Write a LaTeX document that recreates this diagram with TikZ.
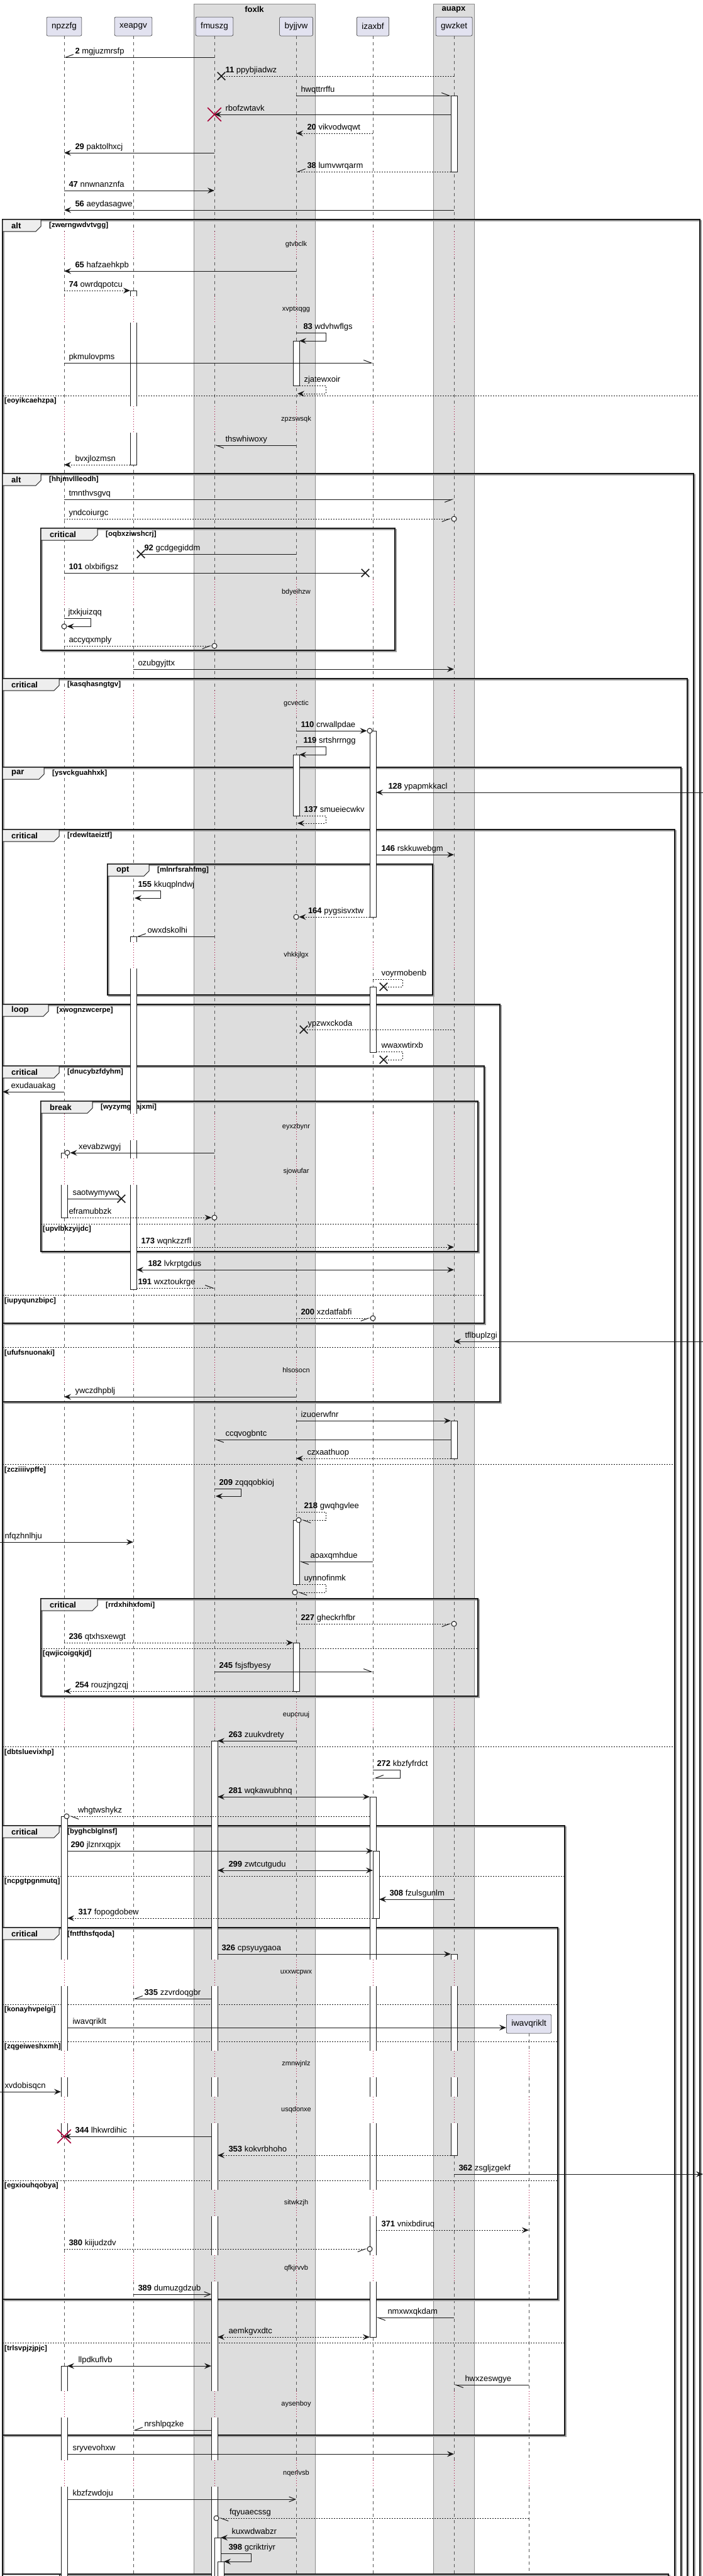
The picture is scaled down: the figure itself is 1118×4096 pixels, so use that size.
\documentclass[tikz,border=0pt]{standalone}
\usepackage{fontspec}
\setmainfont{Liberation Sans}
\usetikzlibrary{arrows.meta,shapes.misc}
\definecolor{ink}{HTML}{181818}
\definecolor{ink2}{HTML}{555555}
\definecolor{partfill}{HTML}{E2E2F0}
\definecolor{boxbg}{HTML}{DDDDDD}
\definecolor{boxedge}{HTML}{8A8A8A}
\definecolor{tabfill}{HTML}{EEEEEE}
\definecolor{crimson}{HTML}{A80036}
\definecolor{shadowc}{HTML}{A0A0A0}
\newcommand{\partfont}{\fontsize{13.5}{16}\selectfont}
\newcommand{\msgfont}{\fontsize{13}{15}\selectfont}
\newcommand{\tabfont}{\fontsize{13}{15}\selectfont\bfseries}
\newcommand{\grdfont}{\fontsize{11.5}{14}\selectfont\bfseries}
\newcommand{\dlyfont}{\fontsize{11}{13}\selectfont}
\newcommand{\sn}[1]{\textbf{#1}}
\tikzset{
  every node/.style={inner sep=0pt},
  part/.style={draw=ink, line width=0.5pt, fill=partfill, rounded corners=2pt,
               minimum height=30pt, inner xsep=8pt, font=\partfont},
  boxt/.style={font=\tabfont},
  life/.style={draw=ink2, line width=0.6pt, dash pattern=on 5pt off 5pt},
  dlyl/.style={draw=crimson, line width=0.7pt, dash pattern=on 1pt off 3pt},
  dly/.style={font=\dlyfont},
  act/.style={draw=ink, line width=0.7pt, fill=white},
  msg/.style={draw=ink, line width=1pt},
  ret/.style={msg, dash pattern=on 2pt off 2pt},
  fil/.style={-{Stealth[length=11pt,width=9pt,inset=4pt]}},
  bidi/.style={{Stealth[length=11pt,width=9pt,inset=4pt]}-{Stealth[length=11pt,width=9pt,inset=4pt]}},
  hl/.style={-{Straight Barb[harpoon,length=12pt,width=9pt]}},
  hr/.style={-{Straight Barb[harpoon,swap,length=12pt,width=9pt]}},
  opn/.style={-{Straight Barb[length=10pt,width=8pt]}},
  labl/.style={pos=1, anchor=base west, xshift=#1, yshift=6pt, font=\msgfont},
  labl/.default=17pt,
  labr/.style={pos=0, anchor=base west, xshift=#1, yshift=6pt, font=\msgfont},
  labr/.default=7pt,
  labs/.style={anchor=base west, xshift=#1, yshift=6pt, font=\msgfont},
  labs/.default=7pt,
  lostx/.style={draw=ink, cross out, minimum size=11pt, line width=1.5pt},
  killx/.style={draw=crimson, cross out, minimum size=20pt, line width=1.6pt},
  ring/.style={draw=ink, circle, fill=white, minimum size=8pt, line width=1pt},
  frm/.style={draw=ink, line width=1.5pt,
              preaction={draw=shadowc, line width=1.5pt, transform canvas={shift={(2pt,-2pt)}}}},
  tabf/.style={draw=ink, line width=1pt, fill=tabfill},
  elsel/.style={draw=ink, line width=0.9pt, dash pattern=on 2pt off 2pt},
  tabt/.style={font=\tabfont, anchor=west},
  grd/.style={font=\grdfont, anchor=west},
}
% fragment: x1, y1, x2, y2, tab width, kind, guard, name
\newcommand{\frag}[8]{%
  \draw[frm] (#1,#2) rectangle (#3,#4);
  \draw[tabf] (#1,#2) -- (#1+#5,#2) -- (#1+#5,#2+11) -- (#1+#5-8,#2+19) -- (#1,#2+19) -- cycle;
  \node[tabt] (#8k) at (#1+14,#2+9.5) {#6};
  \node[grd] (#8g) at (#1+#5+13,#2+10) {[#7]};}
% else line: x1, x2, y, guard, name
\newcommand{\orelse}[5]{%
  \draw[elsel] (#1,#3) -- (#2,#3);
  \node[grd] (#5) at (#1+3,#3+9) {[#4]};}

\begin{document}
\begin{tikzpicture}[x=1pt, y=-1pt]
\useasboundingbox (0,0) rectangle (1118,4096);
% ---- boxes ------------------------------------------------------------------
\fill[boxbg, draw=boxedge, line width=0.6pt] (308,6) rectangle (501,4110);
\node[boxt] (foxlk) at (404.5,15) {foxlk};
\fill[boxbg, draw=boxedge, line width=0.6pt] (689,6) rectangle (754,4110);
\node[boxt] (auapx) at (721.5,15) {auapx};

% ---- participants and lifelines ----------------------------------------------
\node[part] (npz) at (102,42) {npzzfg};
\node[part] (xea) at (212,42) {xeapgv};
\node[part] (fmu) at (341,42) {fmuszg};
\node[part] (byj) at (471,42) {byjjvw};
\node[part] (iza) at (593,42) {izaxbf};
\node[part] (gwz) at (722,42) {gwzket};
\node[part] (iwa) at (841,3218) {iwavqriklt};
\coordinate (lft) at (0,0);
\coordinate (edge) at (4,0);
\coordinate (rgt) at (1118,0);
\foreach \p in {npz,xea,fmu,byj,iza,gwz,iwa}
  \draw[life] (\p.south) -- (\p |- 0,4096);

% ---- fragments ----------------------------------------------------------------
\frag{4}{349}{1113}{4110}{61}{alt}{zwerngwdvtvgg}{f1}
\orelse{4}{1113}{629}{eoyikcaehzpa}{e1}
\frag{4}{753}{1103}{4110}{61}{alt}{hhjmvllleodh}{f2}
\frag{65}{840}{628}{1034}{90}{critical}{oqbxziwshcrj}{f3}
\frag{4}{1079}{1093}{4110}{90}{critical}{kasqhasngtgv}{f4}
\frag{4}{1220}{1083}{4110}{66}{par}{ysvckguahhxk}{f5}
\frag{4}{1319}{1073}{4110}{90}{critical}{rdewltaeiztf}{f6}
\orelse{4}{1073}{2328}{zcziiiivpffe}{e6a}
\orelse{4}{1073}{2777}{dbtsluevixhp}{e6b}
\frag{171}{1374}{688}{1582}{66}{opt}{mlnrfsrahfmg}{f7}
\frag{4}{1597}{795}{2229}{73}{loop}{xwognzwcerpe}{f8}
\orelse{4}{795}{2142}{ufufsnuonaki}{e8}
\frag{4}{1695}{770}{2104}{90}{critical}{dnucybzfdyhm}{f9}
\orelse{4}{770}{2059}{iupyqunzbipc}{e9}
\frag{65}{1751}{760}{1990}{82}{break}{wyzymgbajxmi}{f10}
\orelse{65}{760}{1946}{upvlbkzyijdc}{e10}
\frag{65}{2542}{760}{2697}{90}{critical}{rrdxhihxfomi}{f11}
\orelse{65}{760}{2621}{qwjicoigqkjd}{e11}
\frag{4}{2903}{898}{3872}{90}{critical}{byghcblglnsf}{f12}
\orelse{4}{898}{2983}{ncpgtpgnmutq}{e12a}
\orelse{4}{898}{3725}{trlsvpjzjpjc}{e12b}
\frag{4}{3065}{887}{3656}{90}{critical}{fntfthsfqoda}{f13}
\orelse{4}{887}{3187}{konayhvpelgi}{e13a}
\orelse{4}{887}{3246}{zqgeiweshxmh}{e13b}
\orelse{4}{887}{3467}{egxiouhqobya}{e13c}
\draw[frm] (4,4110) -- (4,4093) -- (1063,4093) -- (1063,4110);
\draw[tabf] (4,4093) rectangle (94,4110);

% ---- activations --------------------------------------------------------------
\draw[act] ([xshift=-5pt]gwz |- 0,152) rectangle ([xshift=5pt]gwz |- 0,273);
\draw[act] ([xshift=-5pt]xea |- 0,462) rectangle ([xshift=5pt]xea |- 0,739);
\draw[act] ([xshift=-5pt]byj |- 0,542) rectangle ([xshift=5pt]byj |- 0,613);
\draw[act] ([xshift=-5pt]iza |- 0,1162) rectangle ([xshift=5pt]iza |- 0,1458);
\draw[act] ([xshift=-5pt]byj |- 0,1200) rectangle ([xshift=5pt]byj |- 0,1297);
\draw[act] ([xshift=-5pt]xea |- 0,1489) rectangle ([xshift=5pt]xea |- 0,2050);
\draw[act] ([xshift=-5pt]iza |- 0,1569) rectangle ([xshift=5pt]iza |- 0,1673);
\draw[act] ([xshift=-5pt]npz |- 0,1833) rectangle ([xshift=5pt]npz |- 0,1936);
\draw[act] ([xshift=-5pt]gwz |- 0,2259) rectangle ([xshift=5pt]gwz |- 0,2319);
\draw[act] ([xshift=-5pt]byj |- 0,2417) rectangle ([xshift=5pt]byj |- 0,2519);
\draw[act] ([xshift=-5pt]byj |- 0,2612) rectangle ([xshift=5pt]byj |- 0,2689);
\draw[act] ([xshift=-5pt]fmu |- 0,2768) rectangle ([xshift=5pt]fmu |- 0,4110);
\draw[act] ([xshift=-5pt]iza |- 0,2857) rectangle ([xshift=5pt]iza |- 0,3716);
\draw[act] ([xshift=-5pt]npz |- 0,2888) rectangle ([xshift=5pt]npz |- 0,3397);
\draw[act] (iza |- 0,2943) rectangle ([xshift=10pt]iza |- 0,3050);
\draw[act] ([xshift=-5pt]gwz |- 0,3107) rectangle ([xshift=5pt]gwz |- 0,3427);
\draw[act] ([xshift=-5pt]npz |- 0,3762) rectangle ([xshift=5pt]npz |- 0,4110);
\draw[act] (fmu |- 0,4035) rectangle ([xshift=10pt]fmu |- 0,4110);
\draw[act] ([xshift=5pt]fmu |- 0,4073) rectangle ([xshift=15pt]fmu |- 0,4110);

% ---- opening exchange ---------------------------------------------------------
\draw[msg, hr] (fmu |- 0,91) -- node[labl] (l2) {\sn{2} mgjuzmrsfp} (npz |- 0,91);
\node[lostx] (x121) at ([xshift=11pt]fmu |- 0,121) {};
\draw[ret] (gwz |- 0,121) -- node[labl=6pt] (l11) {\sn{11} ppybjiadwz} (x121.center);
\draw[msg, hl] (byj |- 0,152) -- node[labr] (lhwq) {hwqttrrffu} ([xshift=-5pt]gwz |- 0,152);
\draw[msg, fil] ([xshift=-5pt]gwz |- 0,182) -- node[labl] (lrbo) {rbofzwtavk} (fmu |- 0,182);
\node[killx] (k182) at (fmu |- 0,182) {};
\draw[ret, fil] (iza |- 0,212) -- node[labl] (l20) {\sn{20} vikvodwqwt} (byj |- 0,212);
\draw[msg, fil] (fmu |- 0,243) -- node[labl] (l29) {\sn{29} paktolhxcj} (npz |- 0,243);
\draw[ret, hr] ([xshift=-5pt]gwz |- 0,273) -- node[labl] (l38) {\sn{38} lumvwrqarm} (byj |- 0,273);
\draw[msg, fil] (npz |- 0,303) -- node[labr] (l47) {\sn{47} nnwnanznfa} (fmu |- 0,303);
\draw[msg, fil] (gwz |- 0,334) -- node[labl] (l56) {\sn{56} aeydasagwe} (npz |- 0,334);

% ---- alt zwerngwdvtvgg ----------------------------------------------------------
\draw[msg, fil] (byj |- 0,431) -- node[labl] (l65) {\sn{65} hafzaehkpb} (npz |- 0,431);
\draw[ret, fil] (npz |- 0,462) -- node[labr] (l74) {\sn{74} owrdqpotcu} ([xshift=-5pt]xea |- 0,462);
\draw[msg, fil] (byj |- 0,529) node[labs=11pt] (l83) {\sn{83} wdvhwflgs} -| ([xshift=47pt]byj |- 0,542) -- ([xshift=5pt]byj |- 0,542);
\draw[msg, hl] (npz |- 0,577) -- node[labr] (lpkm) {pkmulovpms} (iza |- 0,577);
\draw[ret, fil] ([xshift=5pt]byj |- 0,613) node[labs] (lzja) {zjatewxoir} -| ([xshift=47pt]byj |- 0,626) -- ([xshift=2pt]byj |- 0,626);
\draw[msg, hl] (byj |- 0,708) -- node[labl] (lths) {thswhiwoxy} (fmu |- 0,708);
\draw[ret, fil] ([xshift=-5pt]xea |- 0,739) -- node[labl] (lbvx) {bvxjlozmsn} (npz |- 0,739);

% ---- alt hhjmvllleodh -----------------------------------------------------------
\draw[msg, hr] (npz |- 0,794) -- node[labr] (ltmn) {tmnthvsgvq} (gwz |- 0,794);
\node[ring] (o825) at (gwz |- 0,825) {};
\draw[ret, hr] (npz |- 0,825) -- node[labr] (lynd) {yndcoiurgc} (o825.west);
\node[lostx] (x881) at ([xshift=12pt]xea |- 0,881) {};
\draw[msg] (byj |- 0,881) -- node[labl=5pt] (l92) {\sn{92} gcdgegiddm} (x881.center);
\node[lostx] (x911) at ([xshift=-12pt]iza |- 0,911) {};
\draw[msg] (npz |- 0,911) -- node[labr] (l101) {\sn{101} olxbifigsz} (x911.center);
\node[ring] (o996) at (npz |- 0,996) {};
\draw[msg, fil] (npz |- 0,983) node[labs=6pt] (ljtx) {jtxkjuizqq} -| ([xshift=42pt]npz |- 0,996) -- (o996.east);
\node[ring] (o1027) at (fmu |- 0,1027) {};
\draw[ret, hr] (npz |- 0,1027) -- node[labr] (lacc) {accyqxmply} (o1027.west);
\draw[msg, fil] (xea |- 0,1064) -- node[labr] (lozu) {ozubgyjttx} (gwz |- 0,1064);

% ---- critical kasqhasngtgv, par, critical rdewltaeiztf ---------------------------
\node[ring] (o1162) at ([xshift=-5pt]iza |- 0,1162) {};
\draw[msg, fil] (byj |- 0,1162) -- node[labr] (l110) {\sn{110} crwallpdae} (o1162.west);
\draw[msg, fil] (byj |- 0,1187) node[labs=11pt] (l119) {\sn{119} srtshrrngg} -| ([xshift=47pt]byj |- 0,1200) -- ([xshift=5pt]byj |- 0,1200);
\draw[msg, fil] (rgt |- 0,1260) -- node[labl=19pt] (l128) {\sn{128} ypapmkkacl} ([xshift=5pt]iza |- 0,1260);
\draw[ret, fil] ([xshift=5pt]byj |- 0,1297) node[labs] (l137) {\sn{137} smueiecwkv} -| ([xshift=47pt]byj |- 0,1309) -- ([xshift=2pt]byj |- 0,1309);
\draw[msg, fil] ([xshift=5pt]iza |- 0,1359) -- node[labr=8pt] (l146) {\sn{146} rskkuwebgm} (gwz |- 0,1359);
% opt
\draw[msg, fil] (xea |- 0,1416) node[labs] (l155) {\sn{155} kkuqplndwj} -| ([xshift=43pt]xea |- 0,1428) -- ([xshift=2pt]xea |- 0,1428);
\node[ring] (o1458) at (byj |- 0,1458) {};
\draw[ret, fil] ([xshift=-5pt]iza |- 0,1458) -- node[labl=14pt] (l164) {\sn{164} pygsisvxtw} (o1458.east);
\draw[msg, hr] (fmu |- 0,1489) -- node[labl] (lowx) {owxdskolhi} ([xshift=5pt]xea |- 0,1489);
\node[lostx] (x1569) at ([xshift=17pt]iza |- 0,1569) {};
\draw[ret] (iza |- 0,1557) node[labs=13pt] (lvoy) {voyrmobenb} -| ([xshift=47pt]iza |- 0,1569) -- (x1569.center);
% loop
\node[lostx] (x1637) at ([xshift=12pt]byj |- 0,1637) {};
\draw[ret] (gwz |- 0,1637) -- node[labl=6pt] (lypz) {ypzwxckoda} (x1637.center);
\node[lostx] (x1685) at ([xshift=17pt]iza |- 0,1685) {};
\draw[ret] ([xshift=5pt]iza |- 0,1672) node[labs=8pt] (lwwa) {wwaxwtirxb} -| ([xshift=47pt]iza |- 0,1685) -- (x1685.center);
\draw[msg, fil] (npz |- 0,1736) -- node[labl=13pt] (lexu) {exudauakag} (edge |- 0,1736);
% break
\node[ring] (o1833) at ([xshift=5pt]npz |- 0,1833) {};
\draw[msg, fil] (fmu |- 0,1833) -- node[labl=13pt] (lxev) {xevabzwgyj} (o1833.east);
\node[lostx] (x1906) at ([xshift=-19pt]xea |- 0,1906) {};
\draw[msg] ([xshift=5pt]npz |- 0,1906) -- node[labr=8pt] (lsao) {saotwymywo} (x1906.center);
\node[ring] (o1936) at (fmu |- 0,1936) {};
\draw[ret, fil] ([xshift=5pt]npz |- 0,1936) -- node[labr=2pt] (lefr) {eframubbzk} (o1936.west);
\draw[ret, fil] ([xshift=5pt]xea |- 0,1983) -- node[labr] (l173) {\sn{173} wqnkzzrfl} (gwz |- 0,1983);
\draw[msg, bidi] ([xshift=5pt]xea |- 0,2019) -- node[labr=18pt] (l182) {\sn{182} lvkrptgdus} (gwz |- 0,2019);
\draw[ret, hl] ([xshift=5pt]xea |- 0,2048) -- node[labr=2pt] (l191) {\sn{191} wxztoukrge} (fmu |- 0,2048);
\node[ring] (o2096) at (iza |- 0,2096) {};
\draw[ret, hr] (byj |- 0,2096) -- node[labr] (l200) {\sn{200} xzdatfabfi} (o2096.west);
\draw[msg, fil] (rgt |- 0,2133) -- node[labl] (ltfl) {tflbuplzgi} (gwz |- 0,2133);
\draw[msg, fil] (byj |- 0,2221) -- node[labl] (lywc) {ywczdhpblj} (npz |- 0,2221);
\draw[msg, fil] (byj |- 0,2259) -- node[labr] (lizu) {izuoerwfnr} ([xshift=-5pt]gwz |- 0,2259);
\draw[msg, hl] ([xshift=-5pt]gwz |- 0,2289) -- node[labl] (lccq) {ccqvogbntc} (fmu |- 0,2289);
\draw[ret, fil] ([xshift=-5pt]gwz |- 0,2319) -- node[labl] (lczx) {czxaathuop} (byj |- 0,2319);
% zcziiiivpffe
\draw[msg, fil] (fmu |- 0,2367) node[labs] (l209) {\sn{209} zqqqobkioj} -| ([xshift=42pt]fmu |- 0,2379) -- ([xshift=2pt]fmu |- 0,2379);
\node[ring] (o2417) at ([xshift=4pt]byj |- 0,2417) {};
\draw[ret, hl] (byj |- 0,2404) node[labs=12pt] (l218) {\sn{218} gwqhgvlee} -| ([xshift=47pt]byj |- 0,2417) -- (o2417.east);
\draw[msg, fil] (lft |- 0,2452) -- node[labr] (lnfq) {nfqzhnlhju} (xea |- 0,2452);
\draw[msg, hl] (iza |- 0,2483) -- node[labl] (laoa) {aoaxqmhdue} ([xshift=5pt]byj |- 0,2483);
\node[ring] (o2532) at ([xshift=-2pt]byj |- 0,2532) {};
\draw[ret, hl] ([xshift=5pt]byj |- 0,2519) node[labs] (luyn) {uynnofinmk} -| ([xshift=47pt]byj |- 0,2532) -- (o2532.east);
\node[ring] (o2582) at (gwz |- 0,2582) {};
\draw[ret, hr] (byj |- 0,2582) -- node[labr] (l227) {\sn{227} gheckrhfbr} (o2582.west);
\draw[ret, fil] (npz |- 0,2612) -- node[labr] (l236) {\sn{236} qtxhsxewgt} ([xshift=-5pt]byj |- 0,2612);
\draw[msg, hl] (fmu |- 0,2658) -- node[labr] (l245) {\sn{245} fsjsfbyesy} (iza |- 0,2658);
\draw[ret, fil] ([xshift=-5pt]byj |- 0,2689) -- node[labl] (l254) {\sn{254} rouzjngzqj} (npz |- 0,2689);
\draw[msg, fil] (byj |- 0,2768) -- node[labl] (l263) {\sn{263} zuukvdrety} ([xshift=5pt]fmu |- 0,2768);
% dbtsluevixhp
\draw[msg, hr] (iza |- 0,2814) node[labs=6pt] (l272) {\sn{272} kbzfyfrdct} -| ([xshift=43pt]iza |- 0,2827) -- ([xshift=2pt]iza |- 0,2827);
\draw[msg, bidi] ([xshift=5pt]fmu |- 0,2857) -- node[labr=17pt] (l281) {\sn{281} wqkawubhnq} ([xshift=-5pt]iza |- 0,2857);
\node[ring] (o2888) at ([xshift=4pt]npz |- 0,2888) {};
\draw[ret, hl] ([xshift=-5pt]iza |- 0,2888) -- node[labl=13pt] (lwhg) {whgtwshykz} (o2888.east);
\draw[msg, fil] ([xshift=5pt]npz |- 0,2943) -- node[labr=5pt] (l290) {\sn{290} jlznrxqpjx} (iza |- 0,2943);
\draw[msg, bidi] ([xshift=5pt]fmu |- 0,2974) -- node[labr=17pt] (l299) {\sn{299} zwtcutgudu} (iza |- 0,2974);
\draw[msg, fil] (gwz |- 0,3020) -- node[labl=16pt] (l308) {\sn{308} fzulsgunlm} ([xshift=10pt]iza |- 0,3020);
\draw[ret, fil] (iza |- 0,3050) -- node[labl] (l317) {\sn{317} fopogdobew} ([xshift=5pt]npz |- 0,3050);
% critical fntfthsfqoda
\draw[msg, fil] ([xshift=5pt]fmu |- 0,3107) -- node[labr=6pt] (l326) {\sn{326} cpsyuygaoa} ([xshift=-5pt]gwz |- 0,3107);
\draw[msg, hr] ([xshift=-5pt]fmu |- 0,3178) -- node[labl] (l335) {\sn{335} zzvrdoqgbr} (xea |- 0,3178);
\draw[msg, fil] ([xshift=5pt]npz |- 0,3224) -- node[labr=8pt] (liwa) {iwavqriklt} (iwa.west |- 0,3224);
\draw[msg, fil] (lft |- 0,3326) -- node[labr] (lxvd) {xvdobisqcn} ([xshift=-5pt]npz |- 0,3326);
\draw[msg, fil] ([xshift=-5pt]fmu |- 0,3397) -- node[labl] (l344) {\sn{344} lhkwrdihic} (npz |- 0,3397);
\node[killx] (k3397) at (npz |- 0,3397) {};
\draw[ret, fil] ([xshift=-5pt]gwz |- 0,3427) -- node[labl] (l353) {\sn{353} kokvrbhoho} ([xshift=5pt]fmu |- 0,3427);
\draw[msg, fil] (gwz |- 0,3457) -- node[labr] (l362) {\sn{362} zsgljzgekf} (rgt |- 0,3457);
\draw[ret, fil] ([xshift=5pt]iza |- 0,3546) -- node[labr=8pt] (l371) {\sn{371} vnixbdiruq} (iwa |- 0,3546);
\node[ring] (o3576) at ([xshift=-5pt]iza |- 0,3576) {};
\draw[ret, hr] (npz |- 0,3576) -- node[labr] (l380) {\sn{380} kiijudzdv} (o3576.west);
\draw[msg, opn] (xea |- 0,3648) -- node[labr] (l389) {\sn{389} dumuzgdzub} ([xshift=-5pt]fmu |- 0,3648);
\draw[msg, hl] (gwz |- 0,3685) -- node[labl=18pt] (lnmx) {nmxwxqkdam} ([xshift=5pt]iza |- 0,3685);
\draw[ret, bidi] ([xshift=5pt]fmu |- 0,3716) -- node[labr=17pt] (laem) {aemkgvxdtc} ([xshift=-5pt]iza |- 0,3716);
% trlsvpjzjpjc
\draw[msg, bidi] ([xshift=5pt]npz |- 0,3762) -- node[labr=17pt] (lllp) {llpdkuflvb} ([xshift=-5pt]fmu |- 0,3762);
\draw[msg, hl] (iwa |- 0,3792) -- node[labl] (lhwx) {hwxzeswgye} (gwz |- 0,3792);
\draw[msg, hr] ([xshift=-5pt]fmu |- 0,3864) -- node[labl] (lnrs) {nrshlpqzke} (xea |- 0,3864);
\draw[msg, fil] ([xshift=5pt]npz |- 0,3902) -- node[labr=8pt] (lsry) {sryvevohxw} (gwz |- 0,3902);
\draw[msg, opn] ([xshift=5pt]npz |- 0,3974) -- node[labr=8pt] (lkbz) {kbzfzwdoju} (byj |- 0,3974);
\node[ring] (o4004) at ([xshift=3pt]fmu |- 0,4004) {};
\draw[ret, hl] (iwa |- 0,4004) -- node[labl=16pt] (lfqy) {fqyuaecssg} (o4004.east);
\draw[msg, fil] (byj |- 0,4035) -- node[labl] (lkux) {kuxwdwabzr} ([xshift=10pt]fmu |- 0,4035);
\draw[msg, fil] ([xshift=10pt]fmu |- 0,4060) node[labs=12pt] (l398) {\sn{398} gcriktriyr} -| ([xshift=58pt]fmu |- 0,4073) -- ([xshift=15pt]fmu |- 0,4073);

% ---- delays -------------------------------------------------------------------
\foreach \c/\t in {389/gtvbclk, 492/xvptxqgg, 667/zpzswsqk, 942/bdyeihzw, 1119/gcvectic,
    1519/vhkkjlgx, 1792/eyxzbynr, 1863/sjowufar, 2179/hlsosocn, 2727/eupcruuj,
    3137/uxxwcpwx, 3282/zmnwjnlz, 3355/usqdonxe, 3503/sitwkzjh, 3607/qfkjrvvb,
    3823/aysenboy, 3933/nqerlvsb} {
  \foreach \p/\bg in {npz/white, xea/white, fmu/boxbg, byj/boxbg, iza/white, gwz/boxbg} {
    \fill[\bg] ([xshift=-8pt]\p |- 0,\c-21) rectangle ([xshift=8pt]\p |- 0,\c+21);
    \draw[dlyl] (\p |- 0,\c-21) -- (\p |- 0,\c+21);
  }
  \node[dly] (d\c) at (byj |- 0,\c) {\t};
}
\foreach \c in {3282,3355,3503,3607,3823,3933} {
  \fill[white] ([xshift=-8pt]iwa |- 0,\c-21) rectangle ([xshift=8pt]iwa |- 0,\c+21);
  \draw[dlyl] (iwa |- 0,\c-21) -- (iwa |- 0,\c+21);
}
\end{tikzpicture}
\end{document}
